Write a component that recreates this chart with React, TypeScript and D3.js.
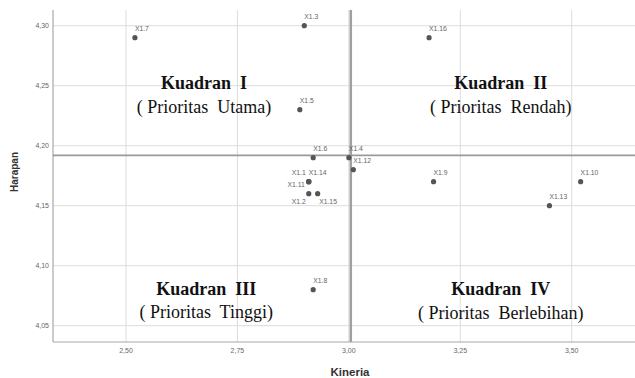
import React from "react";
import * as d3 from "d3";

const names = ["X1.1","X1.2","X1.3","X1.4","X1.5","X1.6","X1.7","X1.8","X1.9","X1.10","X1.11","X1.12","X1.13","X1.14","X1.15","X1.16"];
const kinerja = [2.91,2.91,2.90,3.00,2.89,2.92,2.52,2.92,3.19,3.52,2.91,3.01,3.45,2.91,2.93,3.18];
const harapan = [4.17,4.16,4.30,4.19,4.23,4.19,4.29,4.08,4.17,4.17,4.17,4.18,4.15,4.17,4.16,4.29];
const xTicks = [2.5,2.75,3.0,3.25,3.5];
const yTicks = [4.05,4.10,4.15,4.20,4.25,4.30];
const quadTitles = ["Kuadran  I","Kuadran  II","Kuadran  III","Kuadran  IV"];
const quadSubs = ["( Prioritas  Utama)","( Prioritas  Rendah)","( Prioritas  Tinggi)","( Prioritas  Berlebihan)"];

// label placement styles
const placement: Record<string,string> = {
  "X1.1": "upleft", "X1.11": "left", "X1.2": "downleft", "X1.15": "downright",
};

const W = 635, H = 378;
const L = 53, R = 635, T = 10, B = 342;

export default function App() {
  const x = d3.scaleLinear().domain([2.3362, 3.642]).range([L, R]);
  const y = d3.scaleLinear().domain([4.0364, 4.3131]).range([B, T]);
  const fmt = (v: number) => d3.format(".2f")(v).replace(".", ",");
  const mx = d3.mean(kinerja)!;
  const my = d3.mean(harapan)!;
  const quadPos = [
    { cx: 2.675, ty: 4.2473, sy: 4.2269 },
    { cx: 3.341, ty: 4.2473, sy: 4.2269 },
    { cx: 2.68, ty: 4.0756, sy: 4.0565 },
    { cx: 3.341, ty: 4.0756, sy: 4.0557 },
  ];
  return (
    <svg width={W} height={H} style={{ position: "absolute", left: 0, top: 0, background: "#fff" }}>
      <rect width={W} height={H} fill="#fff" />
      {xTicks.map((t) => (
        <line key={"gx" + t} x1={x(t)} x2={x(t)} y1={T} y2={B} stroke="#dcdcdc" strokeWidth={1} />
      ))}
      {yTicks.map((t) => (
        <line key={"gy" + t} x1={L} x2={R} y1={y(t)} y2={y(t)} stroke="#dcdcdc" strokeWidth={1} />
      ))}
      <line x1={L} x2={L} y1={T} y2={B} stroke="#a8a8a8" strokeWidth={1.2} />
      <line x1={L} x2={R} y1={B} y2={B} stroke="#a8a8a8" strokeWidth={1.2} />
      <line x1={x(mx)} x2={x(mx)} y1={T} y2={B} stroke="#a0a0a0" strokeWidth={2.5} />
      <line x1={L} x2={R} y1={y(my)} y2={y(my)} stroke="#9a9a9a" strokeWidth={1.8} />
      {yTicks.map((t) => (
        <text key={"ty" + t} x={L - 4} y={y(t) + 2.5} fontSize={7} fill="#666" textAnchor="end" fontFamily="Liberation Sans, Arial">{fmt(t)}</text>
      ))}
      {xTicks.map((t) => (
        <text key={"tx" + t} x={x(t)} y={353} fontSize={7} fill="#666" textAnchor="middle" fontFamily="Liberation Sans, Arial">{fmt(t)}</text>
      ))}
      <text x={350} y={376} fontSize={11.5} fontWeight="bold" fill="#333" textAnchor="middle" fontFamily="Liberation Sans, Arial">Kineria</text>
      <text transform="translate(18,172) rotate(-90)" fontSize={10} fontWeight="bold" fill="#333" textAnchor="middle" fontFamily="Liberation Sans, Arial">Harapan</text>
      {quadTitles.map((q, i) => (
        <g key={q}>
          <text x={x(quadPos[i].cx)} y={y(quadPos[i].ty)} fontSize={18} fontWeight="bold" fill="#111" textAnchor="middle" fontFamily="Liberation Serif, Times New Roman, serif" style={{ whiteSpace: "pre" }}>{q}</text>
          <text x={x(quadPos[i].cx)} y={y(quadPos[i].sy)} fontSize={18} fill="#111" textAnchor="middle" fontFamily="Liberation Serif, Times New Roman, serif" style={{ whiteSpace: "pre" }}>{quadSubs[i]}</text>
        </g>
      ))}
      {names.map((n, i) => {
        const px = x(kinerja[i]), py = y(harapan[i]);
        const p = placement[n];
        let lx = px, ly = py - 6.5, anchor = "start";
        if (p === "upleft") { lx = px - 3; anchor = "end"; }
        if (p === "left") { lx = px - 4; ly = py + 5; anchor = "end"; }
        if (p === "downleft") { lx = px - 3; ly = py + 10.5; anchor = "end"; }
        if (p === "downright") { lx = px + 1.5; ly = py + 10.5; }
        return (
          <g key={n}>
            <circle cx={px} cy={py} r={2.6} fill="#555" />
            <text x={lx} y={ly} fontSize={6.8} fill="#666" textAnchor={anchor} fontFamily="Liberation Sans, Arial">{n}</text>
          </g>
        );
      })}
    </svg>
  );
}
